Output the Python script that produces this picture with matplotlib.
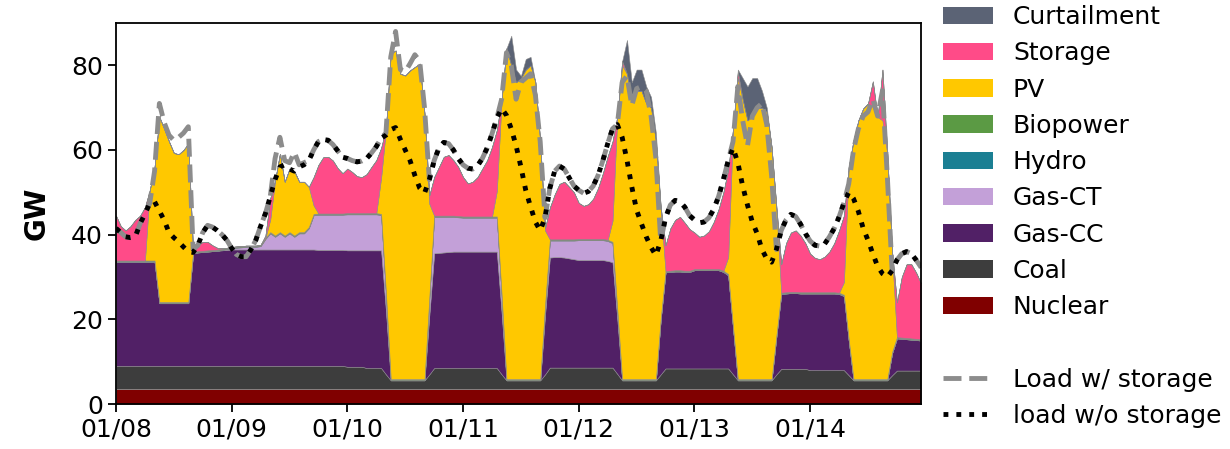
import pandas as pd
import matplotlib
matplotlib.use("Agg")
import matplotlib.pyplot as plt
import matplotlib.dates as mdates
from matplotlib.patches import Patch
from matplotlib.lines import Line2D

# ********** Data: hourly dispatch in GW, 01/08 - 01/14 ***********************

hours = pd.date_range("2020-01-08 00:00", periods=168, freq="h")

nuclear = [3.6] * 168
hydro = [0.1] * 168
biopower = [0.2] * 168

coal = [
    5.4, 5.4, 5.4, 5.4, 5.4, 5.4, 5.4, 5.4, 5.4, 5.4, 5.4, 5.4, 5.4, 5.4, 5.4, 5.4, 5.4, 5.4, 5.4, 5.4, 5.4, 5.4, 5.4, 5.4,
    5.4, 5.4, 5.4, 5.4, 5.4, 5.4, 5.4, 5.4, 5.4, 5.4, 5.4, 5.4, 5.4, 5.4, 5.4, 5.4, 5.4, 5.4, 5.4, 5.4, 5.4, 5.4, 5.4, 5.4,
    5.2, 5.2, 5.2, 5.2, 4.9, 4.9, 4.9, 4.9, 3.4, 2.0, 2.0, 2.0, 2.0, 2.0, 2.0, 2.0, 2.0, 3.4, 4.9, 4.9, 4.9, 4.9, 4.9, 4.9,
    4.9, 4.9, 4.9, 4.9, 4.9, 4.9, 4.9, 4.9, 3.4, 2.0, 2.0, 2.0, 2.0, 2.0, 2.0, 2.0, 2.0, 3.4, 5.0, 5.0, 5.0, 5.0, 5.0, 5.0,
    5.0, 5.0, 5.0, 5.0, 5.0, 5.0, 5.0, 5.0, 3.5, 2.0, 2.0, 2.0, 2.0, 2.0, 2.0, 2.0, 2.0, 3.4, 4.8, 4.8, 4.8, 4.8, 4.8, 4.8,
    4.8, 4.8, 4.8, 4.8, 4.8, 4.8, 4.8, 4.8, 3.4, 2.0, 2.0, 2.0, 2.0, 2.0, 2.0, 2.0, 2.0, 3.4, 4.7, 4.7, 4.7, 4.7, 4.7, 4.7,
    4.4, 4.4, 4.4, 4.4, 4.4, 4.4, 4.4, 4.4, 3.2, 2.0, 2.0, 2.0, 2.0, 2.0, 2.0, 2.0, 2.0, 3.2, 4.3, 4.3, 4.3, 4.3, 4.3, 4.3]

gas_cc = [
    24.6, 24.6, 24.6, 24.6, 24.6, 24.6, 24.6, 24.6, 24.6, 14.8, 14.8, 14.8, 14.8, 14.8, 14.8, 14.8, 26.6, 26.8, 26.9, 27.0, 27.1, 27.2, 27.3, 27.4,
    27.5, 27.5, 27.5, 27.5, 27.5, 27.5, 27.5, 27.5, 27.5, 27.5, 27.5, 27.5, 27.5, 27.5, 27.5, 27.5, 27.5, 27.5, 27.4, 27.4, 27.4, 27.4, 27.4, 27.4,
    27.5, 27.5, 27.5, 27.5, 27.8, 27.8, 27.8, 27.8, 15.0, 0, 0, 0, 0, 0, 0, 0, 0, 14.0, 27.1, 27.2, 27.3, 27.4, 27.5, 27.5,
    27.5, 27.5, 27.5, 27.5, 27.5, 27.5, 27.5, 27.5, 14.5, 0, 0, 0, 0, 0, 0, 0, 0, 14.0, 26.0, 26.1, 26.1, 26.0, 25.8, 25.6,
    25.4, 25.4, 25.4, 25.4, 25.4, 25.4, 25.2, 24.9, 12.9, 0, 0, 0, 0, 0, 0, 0, 0, 13.0, 22.7, 22.8, 22.9, 22.9, 22.8, 22.8,
    23.2, 23.2, 23.2, 23.2, 23.2, 23.2, 22.8, 22.0, 11.0, 0, 0, 0, 0, 0, 0, 0, 0, 9.0, 17.7, 17.8, 17.9, 17.9, 17.8, 17.8,
    18.1, 18.1, 18.1, 18.1, 18.1, 18.1, 18.0, 17.5, 8.2, 0, 0, 0, 0, 0, 0, 0, 0, 5.2, 7.6, 7.5, 7.4, 7.3, 7.2, 7.1]

gas_ct = [
    0, 0, 0, 0, 0, 0, 0, 0, 0, 0, 0, 0, 0, 0, 0, 0, 0, 0, 0, 0, 0, 0, 0.1, 0.2,
    0.3, 0.4, 0.5, 0.6, 0.6, 0.6, 0.8, 2.5, 3.8, 3.0, 3.8, 3.0, 3.8, 3.0, 3.8, 3.8, 5.0, 8.1, 8.3, 8.3, 8.3, 8.3, 8.3, 8.3,
    8.5, 8.5, 8.5, 8.5, 8.5, 8.5, 8.5, 8.3, 4.0, 0, 0, 0, 0, 0, 0, 0, 0, 4.0, 8.6, 8.5, 8.4, 8.3, 8.2, 8.1,
    8.0, 8.0, 8.0, 8.0, 8.0, 8.0, 8.0, 8.0, 4.0, 0, 0, 0, 0, 0, 0, 0, 0, 2.0, 4.0, 3.9, 3.9, 4.0, 4.2, 4.4,
    4.7, 4.7, 4.7, 4.7, 4.7, 4.7, 4.7, 4.5, 2.0, 0, 0, 0, 0, 0, 0, 0, 0, 0, 0, 0, 0, 0, 0, 0,
    0, 0, 0, 0, 0, 0, 0, 0, 0, 0, 0, 0, 0, 0, 0, 0, 0, 0, 0, 0, 0, 0, 0, 0,
    0, 0, 0, 0, 0, 0, 0, 0, 0, 0, 0, 0, 0, 0, 0, 0, 0, 0, 0, 0, 0, 0, 0, 0]

pv = [
    0, 0, 0, 0, 0, 0, 0, 16.6, 22.1, 43.7, 40.9, 37.9, 35.2, 34.9, 35.9, 37.4, 0, 0, 0, 0, 0, 0, 0, 0,
    0, 0, 0, 0, 0, 0, 0, 0, 3.0, 13.0, 18.5, 12.7, 15.0, 15.2, 11.9, 11.9, 9.5, 2.0, 0, 0, 0, 0, 0, 0,
    0, 0, 0, 0, 0, 0, 0, 8.6, 38.7, 76.9, 77.6, 72.1, 71.7, 72.9, 73.7, 74.5, 62.7, 22.0, 0, 0, 0, 0, 0, 0,
    0, 0, 0, 0, 0, 0, 0, 6.0, 46.2, 78.1, 74.1, 70.1, 71.1, 73.1, 74.1, 70.1, 56.1, 17.7, 0, 0, 0, 0, 0, 0,
    0, 0, 0, 0, 0, 0, 0, 5.0, 45.7, 74.1, 72.1, 66.1, 68.1, 68.1, 65.1, 64.1, 56.1, 25.7, 0, 0, 0, 0, 0, 0,
    0, 0, 0, 0, 0, 0, 0, 4.0, 46.7, 71.1, 66.1, 61.1, 62.1, 64.1, 64.1, 63.1, 54.8, 29.7, 0, 0, 0, 0, 0, 0,
    0, 0, 0, 0, 0, 0, 0, 3.0, 40.7, 56.4, 61.1, 63.9, 65.1, 64.3, 61.9, 61.1, 53.2, 23.3, 0, 0, 0, 0, 0, 0]

storage = [
    10.6, 8.1, 7.1, 8.1, 9.6, 10.6, 12.6, 0, 0, 0, 0, 0, 0, 0, 0, 0, 0, 1.4, 2.1, 2.0, 1.1, 0.4, 0.1, 0,
    0, 0, 0, 0, 0, 0, 0, 0.5, 5.0, 0, 0, 0, 0, 0, 0, 0, 0, 6.7, 11.5, 13.3, 13.4, 12.5, 10.7, 9.5,
    10.5, 9.7, 8.7, 8.5, 9.2, 10.9, 12.5, 7.0, 0, 0, 0, 0, 0, 0, 0, 0, 0, 2.0, 9.1, 11.5, 13.9, 14.3, 13.1, 11.6,
    9.3, 7.8, 8.2, 9.3, 11.3, 13.3, 16.4, 14.4, 0, 0, 0, 0, 0, 0, 0, 0, 0, 0.5, 7.5, 10.6, 13.1, 13.6, 12.4, 11.1,
    8.5, 7.8, 8.2, 9.5, 12.0, 15.5, 19.7, 18.7, 0, 1.0, 0, 0, 0, 0, 0, 0, 0, 0.5, 6.1, 10.0, 11.9, 12.6, 11.3, 9.8,
    8.6, 7.6, 7.9, 8.9, 11.1, 14.1, 18.5, 20.8, 0, 1.5, 0, 0, 0, 0, 0, 0, 0, 0.5, 6.7, 11.6, 14.0, 14.5, 13.4, 11.6,
    9.1, 8.1, 7.8, 8.4, 9.6, 11.6, 14.7, 15.7, 0, 0, 0, 0, 0, 6.0, 0, 12.0, 0, 0.3, 8.2, 14.3, 17.4, 17.5, 15.6, 13.2]

curtailment = [
    0, 0, 0, 0, 0, 0, 0, 0, 0, 0, 0, 0, 0, 0, 0, 0, 0, 0, 0, 0, 0, 0, 0, 0,
    0, 0, 0, 0, 0, 0, 0, 0, 0, 0, 0, 0, 0, 0, 0, 0, 0, 0, 0, 0, 0, 0, 0, 0,
    0, 0, 0, 0, 0, 0, 0, 0, 0, 0, 0, 0, 0, 0, 0, 0, 0, 0, 0, 0, 0, 0, 0, 0,
    0, 0, 0, 0, 0, 0, 0, 0, 0, 0, 7.0, 3.0, 0.5, 2.5, 2.0, 0, 0, 0, 0, 0, 0, 0, 0, 0,
    0, 0, 0, 0, 0, 0, 0, 0, 0, 0, 8.0, 4.0, 5.0, 5.0, 4.0, 2.5, 2.0, 0, 0, 0, 0, 0, 0, 0,
    0, 0, 0, 0, 0, 0, 0, 0, 0, 0.5, 5.0, 8.0, 9.0, 7.0, 4.0, 1.0, 0, 0, 0, 0, 0, 0, 0, 0,
    0, 0, 0, 0, 0, 0, 0, 0, 0, 0, 0, 0, 0, 0, 0, 0, 0, 0, 0, 0, 0, 0, 0, 0]

load_ws = [
    41.5, 40.5, 39.5, 39.3, 39.5, 42.6, 44.9, 47.4, 55.0, 71.0, 66.5, 63.5, 62.3, 63.0, 64.0, 65.5, 36.5, 37.5, 40.5, 42.2, 41.8, 41.0, 40.0, 38.7,
    36.8, 35.3, 34.8, 34.8, 36.5, 38.7, 42.0, 45.0, 49.0, 58.0, 63.0, 57.5, 57.0, 59.5, 56.5, 57.0, 57.5, 60.0, 62.0, 62.5, 62.3, 61.3, 59.8, 58.3,
    58.0, 57.5, 57.2, 57.4, 58.0, 59.3, 60.8, 62.8, 64.0, 82.0, 88.0, 79.0, 78.5, 80.4, 82.5, 81.0, 70.0, 53.0, 57.5, 60.5, 61.8, 61.5, 60.0, 58.0,
    56.5, 55.7, 55.5, 56.3, 58.0, 60.5, 63.8, 67.5, 72.0, 83.0, 80.0, 72.0, 76.0, 77.0, 78.0, 73.0, 62.0, 44.0, 51.0, 55.0, 56.2, 55.5, 53.5, 51.5,
    50.5, 49.8, 50.2, 51.5, 54.0, 57.5, 61.5, 65.0, 66.0, 76.0, 77.5, 70.5, 74.5, 75.0, 74.0, 68.0, 58.0, 38.5, 44.0, 47.0, 48.1, 47.8, 46.5, 44.5,
    43.5, 42.8, 43.0, 44.0, 46.0, 49.0, 53.0, 57.5, 62.0, 75.0, 67.0, 61.0, 68.0, 70.0, 71.0, 66.0, 54.0, 36.5, 41.0, 43.5, 44.8, 44.3, 42.5, 40.3,
    38.5, 37.5, 37.3, 37.8, 39.5, 41.5, 44.2, 47.5, 52.0, 60.0, 65.0, 68.0, 69.0, 72.0, 68.0, 74.0, 54.0, 31.5, 34.0, 35.5, 36.0, 35.5, 34.0, 32.3]

load_wo = [
    41.5, 40.5, 39.5, 39.3, 39.5, 42.6, 44.9, 47.4, 47.8, 45.6, 43.4, 40.5, 39.3, 38.3, 37.1, 36.0, 35.8, 37.5, 40.5, 42.2, 41.8, 41.0, 40.0, 38.7,
    36.8, 35.3, 34.8, 34.8, 36.5, 38.7, 42.0, 45.0, 49.0, 53.0, 56.0, 56.5, 55.5, 55.0, 56.0, 56.5, 57.5, 60.0, 62.0, 62.5, 62.3, 61.3, 59.8, 58.3,
    58.0, 57.5, 57.2, 57.4, 58.0, 59.3, 60.8, 62.8, 63.5, 64.8, 65.3, 62.5, 60.0, 57.5, 54.0, 51.0, 49.8, 53.0, 57.5, 60.5, 61.8, 61.5, 60.0, 58.0,
    56.5, 55.7, 55.5, 56.3, 58.0, 60.5, 63.8, 67.5, 69.8, 68.2, 65.0, 61.0, 56.0, 50.5, 46.6, 43.0, 41.0, 44.0, 51.0, 55.0, 56.2, 55.5, 53.5, 51.5,
    50.5, 49.8, 50.2, 51.5, 54.0, 57.5, 61.5, 65.0, 66.0, 63.0, 57.6, 51.3, 45.8, 42.6, 39.5, 37.0, 35.1, 38.5, 44.0, 47.0, 48.1, 47.8, 46.5, 44.5,
    43.5, 42.8, 43.0, 44.0, 46.0, 49.0, 53.0, 57.5, 60.5, 57.0, 51.5, 47.0, 43.0, 40.3, 36.5, 34.3, 33.5, 36.5, 41.0, 43.5, 44.8, 44.3, 42.5, 40.3,
    38.5, 37.5, 37.3, 37.8, 39.5, 41.5, 44.2, 47.5, 50.0, 48.5, 45.5, 41.5, 38.7, 35.5, 32.5, 30.8, 30.0, 31.5, 34.0, 35.5, 36.0, 35.5, 34.0, 32.3]

labels = ["Nuclear", "Coal", "Gas-CC", "Gas-CT", "Hydro", "Biopower", "PV", "Storage", "Curtailment"]
colors = ["#800000", "#3d3d3d", "#512066", "#c3a0d8", "#1b7f93", "#5b9a44", "#ffc800", "#ff4b88", "#5b6375"]

# ********** Plot *************************************************************

fig = plt.figure(figsize=(12.3, 4.49), dpi=100)
ax = fig.add_axes([0.0943, 0.1002, 0.6545, 0.8486])

ax.stackplot(hours, nuclear, coal, gas_cc, gas_ct, hydro, biopower, pv, storage, curtailment,
             colors=colors, edgecolor="#8a8a8a", linewidth=0.4)
ax.plot(hours, load_ws, "--", color="#8c8c8c", lw=3.5)
ax.plot(hours, load_wo, ":", color="black", lw=3.5)

ax.set_xlim(hours[0], hours[-1])
ax.set_ylim(0, 90)
ax.set_yticks([0, 20, 40, 60, 80])
ax.xaxis.set_major_locator(mdates.DayLocator())
ax.xaxis.set_major_formatter(mdates.DateFormatter("%m/%d"))
ax.tick_params(labelsize=18, length=6, width=1.3)
for s in ax.spines.values():
    s.set_linewidth(1.3)
ax.set_ylabel("GW", fontsize=20, fontweight="bold")
ax.yaxis.set_label_coords(-0.081, 0.5)

# legend: patches in reverse stack order, a blank row, then the two load lines
handles = [Patch(facecolor=c, label=l) for c, l in zip(colors[::-1], labels[::-1])]
handles.append(Line2D([], [], linestyle="none", label=" "))
handles.append(Line2D([], [], linestyle="--", color="#8c8c8c", lw=3.5, label="Load w/ storage"))
handles.append(Line2D([], [], linestyle=":", color="black", lw=3.5, label="load w/o storage"))
fig.legend(handles=handles, loc="upper left", bbox_to_anchor=(0.7585, 1.011),
           borderaxespad=0, labelspacing=0.49, frameon=False, fontsize=18)

fig.savefig("out.png", dpi=100)
